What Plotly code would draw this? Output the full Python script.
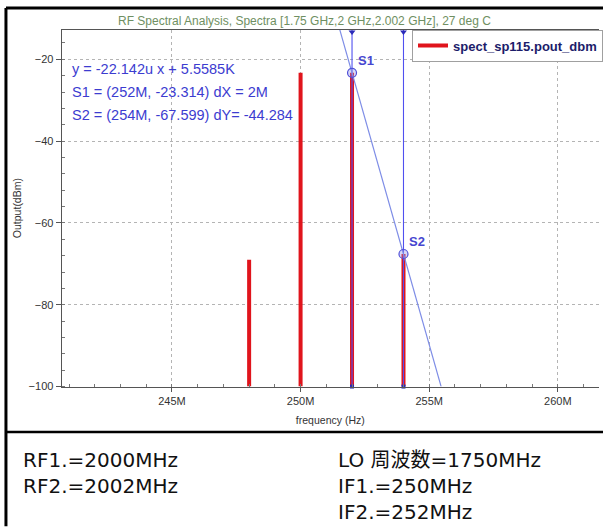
import plotly.graph_objects as go

# ---- data ----
freq_mhz = [248, 250, 252, 254]
pout_dbm = [-69.0, -23.3, -23.314, -67.599]
marker_names = ["S1", "S2"]
marker_freq = [252, 254]
marker_val = [-23.314, -67.599]
x_tick_vals = [245, 250, 255, 260]
x_tick_text = ["245M", "250M", "255M", "260M"]
y_tick_vals = [-100, -80, -60, -40, -20]
info_left = ["RF1.=2000MHz", "RF2.=2002MHz"]
info_right = ["LO 周波数=1750MHz", "IF1.=250MHz", "IF2.=252MHz"]
readouts = ["y = -22.142u x + 5.5585K",
            "S1 = (252M, -23.314) dX = 2M",
            "S2 = (254M, -67.599) dY= -44.284"]

W, H = 603, 527
X0, X1 = 240.71, 261.6
Y0, Y1 = -100, -12.75
BASE = -100

def px(x):
    return x / W

def py(y):
    return (H - y) / H

fig = go.Figure()

# spectral lines as vertical bars
bx, by = [], []
for f, v in zip(freq_mhz, pout_dbm):
    bx += [f, f, None]
    by += [BASE, v, None]
fig.add_trace(go.Scatter(x=bx, y=by, mode="lines", name="<b>spect_sp115.pout_dbm</b>",
                         line=dict(color="#e0141c", width=4)))

# marker vertical lines
mx, my = [], []
for f in marker_freq:
    mx += [f, f, None]
    my += [Y0, Y1, None]
fig.add_trace(go.Scatter(x=mx, y=my, mode="lines", showlegend=False,
                         line=dict(color="#5050f0", width=1.1), hoverinfo="skip"))
fig.add_trace(go.Scatter(x=marker_freq, y=[Y1 - 0.6] * 2, mode="markers", showlegend=False,
                         marker=dict(symbol="triangle-down", size=6, color="#2a2ab8"),
                         cliponaxis=False))
fig.add_trace(go.Scatter(x=marker_freq, y=[Y0] * 2, mode="markers", showlegend=False,
                         marker=dict(symbol="square", size=4, color="#2a2ab8"),
                         cliponaxis=False))

# slope line through S1 and S2
slope = (marker_val[1] - marker_val[0]) / (marker_freq[1] - marker_freq[0])
xa = marker_freq[0] + (Y1 - marker_val[0]) / slope
xb = marker_freq[0] + (Y0 - marker_val[0]) / slope
fig.add_trace(go.Scatter(x=[xa, xb], y=[Y1, Y0], mode="lines", showlegend=False,
                         line=dict(color="#7d8ce6", width=1.2), hoverinfo="skip"))

# marker circles
fig.add_trace(go.Scatter(x=marker_freq, y=marker_val, mode="markers", showlegend=False,
                         marker=dict(symbol="circle", size=9, color="rgba(140,140,230,0.35)",
                                     line=dict(color="#5050d8", width=1.2))))
for n, f, v in zip(marker_names, marker_freq, marker_val):
    fig.add_annotation(x=f, y=v, text="<b>" + n + "</b>", showarrow=False,
                       xanchor="left", yanchor="bottom", xshift=4, yshift=3,
                       font=dict(family="Liberation Sans", size=13, color="#4646d0"))

for i, t in enumerate(readouts):
    fig.add_annotation(x=px(70), y=py(70 + i * 23), xref="paper", yref="paper", text=t,
                       showarrow=False, xanchor="left", yanchor="middle",
                       font=dict(family="Liberation Sans", size=14.5, color="#3c3cd0"))

# title
fig.add_annotation(x=px(307), y=py(21), xref="paper", yref="paper",
                   text="RF Spectral Analysis, Spectra [1.75 GHz,2 GHz,2.002 GHz], 27 deg C",
                   showarrow=False, xanchor="center", yanchor="middle",
                   font=dict(family="Liberation Sans Narrow, Liberation Sans", size=12, color="#6f8f62"))

# info text (one multi-line block per column)
info_font = dict(family="DejaVu Sans, Noto Sans CJK JP", size=20, color="#111111")
fig.add_annotation(x=px(21), y=py(451), xref="paper", yref="paper", text="<br>".join(info_left),
                   showarrow=False, xanchor="left", yanchor="top", align="left", font=info_font)
fig.add_annotation(x=px(338), y=py(451), xref="paper", yref="paper", text="<br>".join(info_right),
                   showarrow=False, xanchor="left", yanchor="top", align="left", font=info_font)

# frame lines
fig.add_shape(type="line", xref="paper", yref="paper", x0=px(6), x1=1.01, y0=py(8), y1=py(8),
              line=dict(color="black", width=3))
fig.add_shape(type="line", xref="paper", yref="paper", x0=px(6), x1=px(6), y0=py(8), y1=-0.01,
              line=dict(color="black", width=3))
fig.add_shape(type="line", xref="paper", yref="paper", x0=px(6), x1=1.01, y0=py(437), y1=py(437),
              line=dict(color="black", width=2.5))

fig.update_layout(
    width=W, height=H, margin=dict(l=0, r=0, t=0, b=0),
    paper_bgcolor="white", plot_bgcolor="white",
    font=dict(family="Liberation Sans", color="#444444"),
    legend=dict(x=px(415), y=py(30), xanchor="left", yanchor="top",
                bgcolor="white", bordercolor="#a0a0a0", borderwidth=1,
                font=dict(family="Liberation Sans", size=13, color="#1c1c6a"),
                itemwidth=30, tracegroupgap=0),
    xaxis=dict(domain=[px(62), 1.0], range=[X0, X1], tickvals=x_tick_vals, ticktext=x_tick_text,
               showgrid=True, gridcolor="#b4b4b4", griddash="dot", gridwidth=1,
               showline=True, linecolor="#555555", linewidth=1, mirror=True,
               ticks="outside", ticklen=4, tickcolor="#555555",
               minor=dict(dtick=1, tick0=240, ticks="inside", ticklen=3, tickcolor="#777777", showgrid=False),
               tickfont=dict(size=11, color="#333333"), zeroline=False,
               title=dict(text="frequency (Hz)", font=dict(size=10.5, color="#333333"), standoff=10)),
    yaxis=dict(domain=[py(391), py(30)], range=[Y0, Y1], tickvals=y_tick_vals,
               showgrid=True, gridcolor="#b4b4b4", griddash="dot", gridwidth=1,
               showline=True, linecolor="#555555", linewidth=1, mirror=False,
               ticks="outside", ticklen=5, tickcolor="#555555",
               minor=dict(dtick=4, tick0=-100, ticks="inside", ticklen=3, tickcolor="#777777", showgrid=False),
               tickfont=dict(size=11, color="#333333"), zeroline=False,
               title=dict(text="Output(dBm)", font=dict(size=10.5, color="#333333"), standoff=4)),
)

fig.write_html("out.html")
